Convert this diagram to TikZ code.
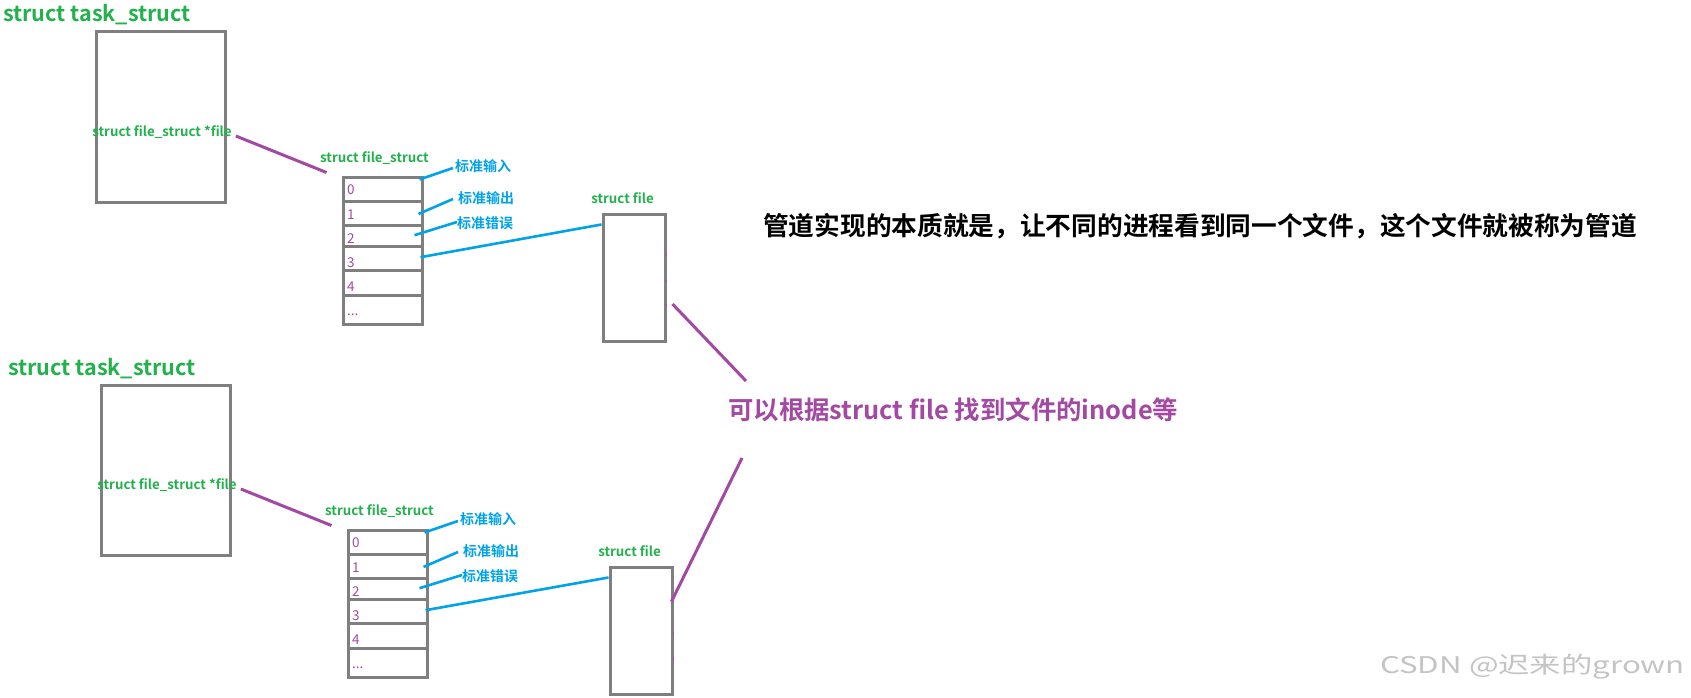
\documentclass[tikz,border=0pt]{standalone}
\usepackage{fontspec}
\setmainfont{Noto Sans CJK SC}[BoldFont={Noto Sans CJK SC Bold}]
\usetikzlibrary{calc}
\definecolor{pgreen}{HTML}{22B14C}
\definecolor{ppurple}{HTML}{A349A4}
\definecolor{pblue}{HTML}{00A2E8}
\definecolor{pgray}{HTML}{7F7F7F}
\definecolor{wmgray}{HTML}{C4C4C4}
\tikzset{
  tbox/.style={draw=pgray, line width=3pt, inner sep=0pt, fill=none},
  cell/.style={draw=pgray, line width=3pt, inner sep=0pt, minimum width=79.5pt},
  gtitle/.style={text=pgreen, inner sep=0pt, font=\fontsize{21.6}{21.6}\selectfont\bfseries},
  gsmall/.style={text=pgreen, inner sep=0pt, font=\fontsize{13.3}{13.3}\selectfont\bfseries},
  numtxt/.style={text=ppurple, inner sep=0pt, anchor=base west, font=\fontsize{13.5}{13.5}\selectfont},
  blbl/.style={text=pblue, inner sep=0pt, font=\fontsize{14}{14}\selectfont\bfseries},
  pline/.style={draw=ppurple, line width=3pt},
  bline/.style={draw=pblue, line width=2.6pt},
}
\newcommand\pipeblock[4]{%
\begin{scope}[shift={(#2,#3)}]
  \node[gtitle, anchor=base west] (title#1) at (3,22) {struct task\_struct};
  \node[tbox, minimum width=129pt, minimum height=170pt] (task#1) at (160.5,117) {};
  \node[gsmall, anchor=base] (ptr#1) at (162,136) {struct file\_struct *file};
  \node[gsmall, anchor=base] (fslbl#1) at (374.5,162) {struct file\_struct};
  \node[cell, minimum height=24pt]   (c#1-0) at (382.75,189) {};
  \node[cell, minimum height=24.7pt] (c#1-1) at (382.75,213.35) {};
  \node[cell, minimum height=21pt]   (c#1-2) at (382.75,236.2) {};
  \node[cell, minimum height=24pt]   (c#1-3) at (382.75,258.7) {};
  \node[cell, minimum height=25pt]   (c#1-4) at (382.75,283.2) {};
  \node[cell, minimum height=28.6pt] (c#1-5) at (382.75,310) {};
  \node[numtxt] (n#1-0) at (347,194.3) {0};
  \node[numtxt] (n#1-1) at (347,219) {1};
  \node[numtxt] (n#1-2) at (347,243.3) {2};
  \node[numtxt] (n#1-3) at (347,267.3) {3};
  \node[numtxt] (n#1-4) at (347,291) {4};
  \node[numtxt] (n#1-5) at (347,315.7) {...};
  \node[blbl, anchor=west] (in#1)  at (455,166) {标准输入};
  \node[blbl, anchor=west] (out#1) at (458,198) {标准输出};
  \node[blbl, anchor=west] (err#1) at (457,223) {标准错误};
  \begin{scope}[shift={(#4,0)}]
    \node[tbox, minimum width=62pt, minimum height=127pt] (file#1) at (634,277.5) {};
    \node[gsmall, anchor=base] (flbl#1) at (622.5,203) {struct file};
  \end{scope}
  \draw[pline] ($(ptr#1.base east)+(4,0)$) -- ($(c#1-0.north west)+(-15,-3)$);
  \draw[bline] ($(c#1-0.north east)+(-4.5,4)$) -- ($(in#1.west)+(-2,2)$);
  \draw[bline] ($(c#1-1.east)+(-5.5,0.6)$) -- ($(out#1.west)+(-5,1)$);
  \draw[bline] ($(c#1-2.east)+(-9.5,-1)$) -- ($(err#1.west)+(0,-1)$);
  \draw[bline] ($(c#1-3.east)+(-3.5,-1.5)$) -- ($(file#1.north west)+(0,12)$);
\end{scope}}
\begin{document}
\begin{tikzpicture}[x=1pt,y=-1pt]
  \useasboundingbox[fill=white] (0,0) rectangle (1691,698);
  \pipeblock{A}{0}{0}{0}
  \pipeblock{B}{5}{353}{2}
  \node[text=ppurple, inner sep=0pt, anchor=base west, font=\fontsize{25.4}{25.4}\selectfont\bfseries] (info) at (728,419) {可以根据struct file 找到文件的inode等};
  \node[text=black, inner sep=0pt, anchor=base west, font=\fontsize{25.7}{25.7}\selectfont\bfseries] (essence) at (763,235.5) {管道实现的本质就是，让不同的进程看到同一个文件，这个文件就被称为管道};
  \draw[pline] ($(fileA.east)+(6,26.5)$) -- ($(info.base west)+(18,-38)$);
  \draw[pline] ($(info.base west)+(14,39)$) -- ($(fileB.north east)+(-2,36)$);
  % small marks on the file boxes
  \draw[draw=ppurple, line width=1.5pt] ($(fileA.north east)+(0,40)$) -- ++(0,3);
  \draw[draw=ppurple, line width=1.5pt] ($(fileA.north east)+(0,67)$) -- ++(0,3);
  \draw[draw=ppurple, line width=1.5pt] ($(fileA.north east)+(0,91)$) -- ++(0,3);
  \draw[draw=ppurple, line width=1.5pt] ($(fileB.north east)+(0,66)$) -- ++(0,3);
  \draw[draw=ppurple, line width=1.5pt] ($(fileB.north east)+(0,91)$) -- ++(0,3);
  \node[text=wmgray, inner sep=0pt, anchor=base west, font=\fontsize{23}{23}\selectfont] (wm) at (1380,673) {\scalebox{1.36}[1]{CSDN @迟来的grown}};
\end{tikzpicture}
\end{document}
